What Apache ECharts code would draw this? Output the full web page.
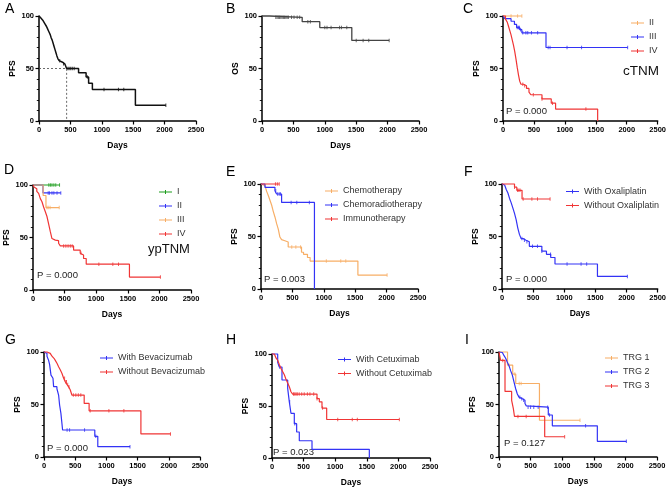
<!DOCTYPE html>
<html><head><meta charset="utf-8">
<script src="https://cdn.jsdelivr.net/npm/echarts@6/dist/echarts.min.js"></script>
<style>html,body{margin:0;padding:0;background:#fff}#c{width:669px;height:488px}</style>
</head><body><div id="c"></div><script>
// ---------- axis ranges ----------
const xMax = 2500, xStep = 500;
const yMax = 100, yStep = 50;

// ---------- A : PFS (all) ----------
const A_pts = [[0,100],[15,99],[30,98],[45,97],[60,96],[75,95],[90,93],[105,91.5],[120,90],[135,88],[150,86],[165,84],[180,82],[195,79],[210,77],[225,74],[240,71],[255,68],[270,65],[285,62],[300,59.5],[320,57.5],[345,56],[375,54.5],[410,53],[440,50],[630,46],[750,42],[790,36],[850,30],[1535,15],[2020,15]];
const A_cens = [330,390,460,480,505,530,560,770,1035,1265,1350,2020];
const A_median = 440;
// ---------- B : OS ----------
const B_pts = [[0,100],[120,98.7],[640,94.6],[920,89],[1430,76.7],[2025,76.7]];
const B_cens = [220,240,260,280,300,320,340,360,380,400,420,470,510,560,600,730,770,1000,1035,1100,1235,1265,1350,1500,1610,1700,2025];
// ---------- C : cTNM ----------
const C_II = [[0,100],[305,100]];
const C_II_cens = [130,236,305];
const C_III = [[0,100],[30,97.5],[130,95],[185,92],[220,89],[270,87],[305,84],[695,70],[2015,70]];
const C_III_cens = [230,250,265,285,320,370,400,460,560,730,760,1035,1270,2015];
const C_IV = [[0,100],[40,97],[70,94],[90,90],[110,86],[130,82],[150,77],[170,72],[190,66],[210,59],[230,51],[250,44],[270,38],[290,35],[330,33.5],[380,31],[420,27.5],[450,25],[630,21],[780,17],[850,11.4],[1530,0]];
const C_IV_cens = [320,350,490,630,800,1340];
// ---------- D : ypTNM ----------
const D_I = [[0,100],[420,100]];
const D_I_cens = [250,275,300,330,360,420];
const D_II = [[0,100],[158,92.5],[440,92.5]];
const D_II_cens = [240,260,300,330,380,440];
const D_III = [[0,100],[160,90],[205,78.5],[415,78.5]];
const D_III_cens = [220,240,270,415];
const D_IV = [[0,100],[15,98],[37,96.5],[60,94],[89,92],[116,87],[142,84],[168,79],[195,74.5],[221,70],[247,63],[274,55.5],[300,49],[330,47.5],[353,47],[405,44.5],[432,42],[642,38],[747,35],[774,33.4],[800,30],[842,24.6],[1526,12.3],[2016,12.3]];
const D_IV_cens = [485,520,555,590,620,760,1042,1263,1353,2016];
// ---------- E : treatment ----------
const E_chemo = [[0,100],[30,98.5],[63,97],[90,93],[116,89],[140,85],[169,80],[195,74],[222,68.6],[250,62],[275,57],[301,49.5],[328,47],[355,46],[380,44.8],[433,40],[645,35],[677,33],[740,30],[782,26.6],[1543,13.3],[2008,13.3]];
const E_chemo_cens = [490,555,630,1040,1270,1350,2008];
const E_crt = [[0,100],[63,96.8],[222,93.6],[248,90.5],[328,82.5],[851,0]];
const E_crt_cens = [235,265,290,310,480,570,770];
const E_immuno = [[0,100],[290,100]];
const E_immuno_cens = [230,260,290];
// ---------- F : oxaliplatin ----------
const F_with = [[0,100],[20,99],[42,97.8],[70,94.5],[95,91.4],[120,86.5],[148,82],[175,77],[201,72],[227,66],[254,58],[280,52],[307,48],[340,46.5],[386,45],[439,40.6],[640,36],[714,33],[782,30],[851,23.8],[1533,12],[2014,12]];
const F_with_cens = [320,360,400,490,570,640,780,1045,1270,1360,2014];
const F_without = [[0,100],[201,97],[238,94],[322,85.7],[772,85.7]];
const F_without_cens = [201,250,270,290,340,480,570,772];
// ---------- G : bevacizumab ----------
const G_with = [[0,100],[21,98.7],[48,96],[74,92],[90,88],[112,78],[144,75],[154,67],[207,65],[234,59],[250,49.5],[271,41.6],[298,25.7],[814,19.7],[862,9.8],[1378,9.8]];
const G_with_cens = [370,410,650,830,1378];
const G_without = [[0,100],[48,98.7],[100,97],[128,96],[160,94],[181,92],[210,89],[234,86],[260,83],[287,79.7],[315,75],[340,71.7],[370,69],[394,67],[420,64],[447,59],[644,51],[723,44],[1553,22],[2027,22]];
const G_without_cens = [330,350,360,380,400,470,510,550,590,740,1040,1280,2027];
// ---------- H : cetuximab ----------
const H_with = [[0,100],[90,92],[115,87.5],[158,75],[248,67],[274,54],[300,43],[353,33],[390,25],[432,16.6],[633,8.3],[1540,0]];
const H_with_cens = [120,280,360];
const H_without = [[0,100],[37,98.7],[65,96],[90,94],[115,90],[142,86],[170,83],[195,80],[220,76],[248,72],[274,68.5],[300,63.7],[327,61.5],[712,57],[749,54],[791,48],[865,37],[2015,37]];
const H_without_cens = [340,360,380,400,430,470,510,560,600,660,712,800,1040,1270,1350,2015];
// ---------- I : TRG ----------
const I_TRG1 = [[0,100],[135,87.5],[217,79],[265,70],[640,35],[1282,35]];
const I_TRG1_cens = [160,250,320,350,1282];
const I_TRG2 = [[0,100],[26,99.5],[53,98.4],[80,96.5],[105,94],[130,90.5],[158,87],[185,82],[211,78],[237,71.5],[264,65],[290,60],[316,57],[340,55.5],[369,54],[411,51],[432,48.7],[450,47.5],[780,40],[844,29.7],[1556,14.9],[2015,14.9]];
const I_TRG2_cens = [330,360,390,460,500,550,620,770,800,1370,2015];
const I_TRG3 = [[0,100],[26,92],[95,62.5],[200,54],[227,46],[245,38.6],[723,19.3],[1039,19.3]];
const I_TRG3_cens = [60,300,430,1039];

// ---------- colours ----------
const K = '#111111', GR = '#444444', OR = '#F7AE66', BL = '#3333F5', RD = '#F03535', GN = '#1E9E1E';

function survAt(pts, t) {
  let v = pts[0][1];
  for (const p of pts) { if (p[0] <= t) v = p[1]; else break; }
  return v;
}

const panels = [
  {id:'A', box:[39,16,157,105], yName:'PFS', xName:'Days', curves:[{l:'all',c:K,p:A_pts,z:A_cens,w:1.5}]},
  {id:'B', box:[262,16,157,105], yName:'OS', xName:'Days', curves:[{l:'os',c:GR,p:B_pts,z:B_cens,w:1.3}]},
  {id:'C', box:[503,16,158,105], yName:'PFS', xName:'', leg:[631,17],
    curves:[{l:'II',c:OR,p:C_II,z:C_II_cens},{l:'III',c:BL,p:C_III,z:C_III_cens},{l:'IV',c:RD,p:C_IV,z:C_IV_cens}]},
  {id:'D', box:[33,185,158,105], yName:'PFS', xName:'Days', leg:[159,186],
    curves:[{l:'I',c:GN,p:D_I,z:D_I_cens},{l:'II',c:BL,p:D_II,z:D_II_cens},{l:'III',c:OR,p:D_III,z:D_III_cens},{l:'IV',c:RD,p:D_IV,z:D_IV_cens}]},
  {id:'E', box:[261,184,157,105], yName:'PFS', xName:'Days', leg:[325,185],
    curves:[{l:'Chemotherapy',c:OR,p:E_chemo,z:E_chemo_cens},{l:'Chemoradiotherapy',c:BL,p:E_crt,z:E_crt_cens},{l:'Immunotherapy',c:RD,p:E_immuno,z:E_immuno_cens}]},
  {id:'F', box:[502,184,157,105], yName:'PFS', xName:'Days', leg:[566,185.5],
    curves:[{l:'With Oxaliplatin',c:BL,p:F_with,z:F_with_cens},{l:'Without Oxaliplatin',c:RD,p:F_without,z:F_without_cens}]},
  {id:'G', box:[44,352,156,105], yName:'PFS', xName:'Days', leg:[100,352],
    curves:[{l:'With Bevacizumab',c:BL,p:G_with,z:G_with_cens},{l:'Without Bevacizumab',c:RD,p:G_without,z:G_without_cens}]},
  {id:'H', box:[272,354,158,104], yName:'PFS', xName:'Days', leg:[338,353.5],
    curves:[{l:'With Cetuximab',c:BL,p:H_with,z:H_with_cens},{l:'Without Cetuximab',c:RD,p:H_without,z:H_without_cens}]},
  {id:'I', box:[499,352,158,105], yName:'PFS', xName:'Days', leg:[605,352],
    curves:[{l:'TRG 1',c:OR,p:I_TRG1,z:I_TRG1_cens},{l:'TRG 2',c:BL,p:I_TRG2,z:I_TRG2_cens},{l:'TRG 3',c:RD,p:I_TRG3,z:I_TRG3_cens}]}
];

const FONT = '"Liberation Sans", Arial, sans-serif';
const grid = [], xAxis = [], yAxis = [], series = [], legend = [];
panels.forEach((pn, i) => {
  grid.push({left: pn.box[0], top: pn.box[1], width: pn.box[2], height: pn.box[3]});
  xAxis.push({
    type:'value', gridIndex:i, min:0, max:xMax, interval:xStep,
    axisLine:{show:true, onZero:false, lineStyle:{color:'#000', width:1.5}},
    axisTick:{show:true, length:3.5, lineStyle:{color:'#000', width:1.2}},
    axisLabel:{fontSize:7.5, fontWeight:'bold', color:'#000', margin:5, fontFamily:FONT, formatter: v => String(v)},
    splitLine:{show:false},
    name: pn.xName, nameLocation:'middle', nameGap:20,
    nameTextStyle:{fontSize:8.5, fontWeight:'bold', color:'#000', fontFamily:FONT}
  });
  yAxis.push({
    type:'value', gridIndex:i, min:0, max:yMax, interval:yStep,
    axisLine:{show:true, onZero:false, lineStyle:{color:'#000', width:1.5}},
    axisTick:{show:true, length:3.5, lineStyle:{color:'#000', width:1.2}},
    minorTick:{show:true, splitNumber:5, length:2.2, lineStyle:{color:'#000', width:0.9}},
    axisLabel:{fontSize:7.5, fontWeight:'bold', color:'#000', margin:5, fontFamily:FONT, formatter: v => String(v)},
    splitLine:{show:false}, minorSplitLine:{show:false},
    name: pn.yName, nameLocation:'middle', nameGap:22, nameRotate:90,
    nameTextStyle:{fontSize:8.5, fontWeight:'bold', color:'#000', fontFamily:FONT}
  });
  const names = [];
  pn.curves.forEach(cv => {
    const nm = pn.id + '|' + cv.l;
    names.push(nm);
    series.push({type:'line', name:nm, xAxisIndex:i, yAxisIndex:i, step:'end', data:cv.p,
      showSymbol:false, symbol:'none', clip:false, silent:true,
      lineStyle:{color:cv.c, width:cv.w || 1.2}, itemStyle:{color:cv.c}});
    series.push({type:'scatter', xAxisIndex:i, yAxisIndex:i, silent:true, clip:false,
      data: cv.z.map(t => [t, survAt(cv.p, t)]),
      symbol:'rect', symbolSize:[1,3.5], itemStyle:{color:cv.c}});
  });
  if (pn.leg) {
    legend.push({data:names, orient:'vertical', left:pn.leg[0], top:pn.leg[1], padding:0,
      itemGap:2, itemWidth:13, itemHeight:5, selectedMode:false,
      icon:'path://M0,2H13V3H0Z M6,0.5H7V4.5H6Z',
      formatter: n => n.split('|')[1],
      textStyle:{fontSize:9, color:'#333', lineHeight:12, fontFamily:FONT}});
  }
});
// median guide lines for A
series.push({type:'line', xAxisIndex:0, yAxisIndex:0, silent:true, showSymbol:false, symbol:'none',
  data:[[0,50],[A_median,50],[A_median,0]], lineStyle:{color:'#444', width:0.8, type:[2,2]}});

const letters = [['A',5,9],['B',226,9],['C',463,9],['D',4,170],['E',226,172],['F',464,172],['G',5,340],['H',226,340],['I',465,340]];
const pvals = [['P = 0.000',506,111],['P = 0.000',37,275],['P = 0.003',264,279],['P = 0.000',506,279],['P = 0.000',47,448],['P = 0.023',273,452],['P = 0.127',504,443]];
const tags = [['cTNM',623,71,13.5],['ypTNM',148,249,13]];
const graphic = [];
letters.forEach(([t,x,y]) => graphic.push({type:'text', x, y, silent:true,
  style:{text:t, font:'14px ' + FONT, fill:'#000', verticalAlign:'middle', align:'left'}}));
pvals.forEach(([t,x,y]) => graphic.push({type:'text', x, y, silent:true,
  style:{text:t, font:'9.5px ' + FONT, fill:'#222', verticalAlign:'middle', align:'left'}}));
tags.forEach(([t,x,y,s]) => graphic.push({type:'text', x, y, silent:true,
  style:{text:t, font:s + 'px ' + FONT, fill:'#111', verticalAlign:'middle', align:'left'}}));

const chart = echarts.init(document.getElementById('c'), null, {renderer:'canvas'});
chart.setOption({animation:false, backgroundColor:'#fff', textStyle:{fontFamily:FONT},
  grid, xAxis, yAxis, series, legend, graphic});
</script></body></html>
